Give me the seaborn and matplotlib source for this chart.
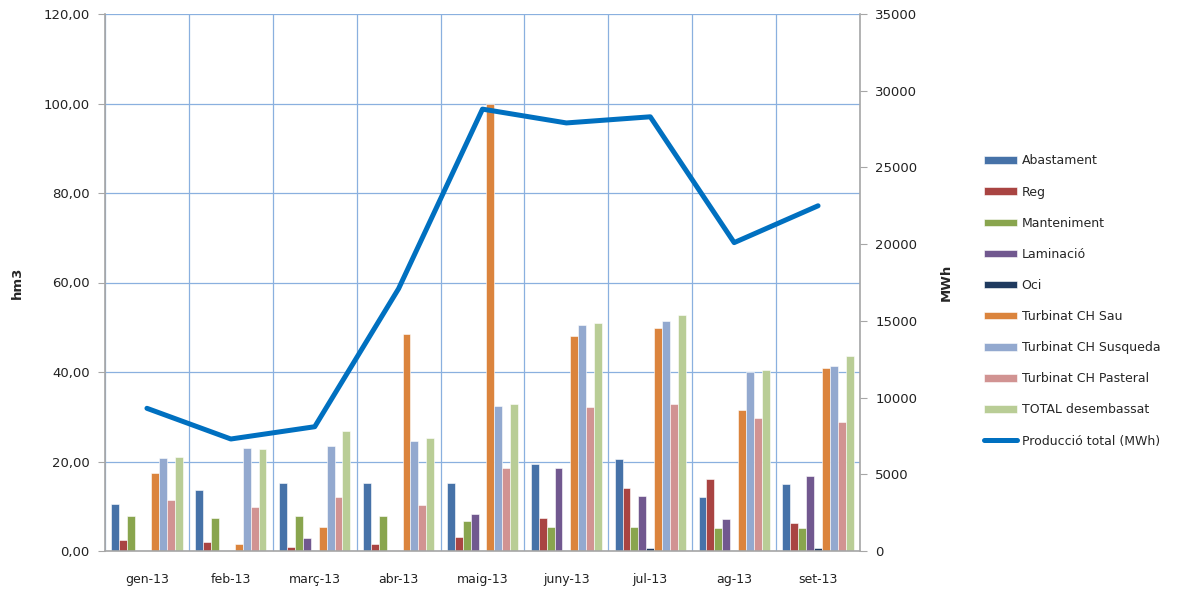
import numpy as np
import pandas as pd
import matplotlib
matplotlib.use("Agg")
import matplotlib.pyplot as plt
from matplotlib.ticker import FuncFormatter, MultipleLocator, FixedLocator
import seaborn as sns

months = ["gen-13", "feb-13", "març-13", "abr-13", "maig-13", "juny-13", "jul-13", "ag-13", "set-13"]
series_names = ["Abastament", "Reg", "Manteniment", "Laminació", "Oci",
                "Turbinat CH Sau", "Turbinat CH Susqueda", "Turbinat CH Pasteral", "TOTAL desembassat"]

abastament = [10.5, 13.7, 15.1, 15.3, 15.1, 19.4, 20.6, 12.0, 14.9]
reg = [2.5, 1.9, 1.0, 1.6, 3.1, 7.4, 14.0, 16.2, 6.2]
manteniment = [7.9, 7.4, 7.9, 7.9, 6.6, 5.4, 5.4, 5.1, 5.1]
laminacio = [0.0, 0.0, 2.8, 0.0, 8.2, 18.5, 12.2, 7.1, 16.8]
oci = [0.0, 0.0, 0.0, 0.0, 0.0, 0.0, 0.6, 0.0, 0.6]
sau = [17.4, 1.6, 5.4, 48.6, 100.0, 48.1, 49.8, 31.5, 41.0]
susqueda = [20.8, 23.1, 23.4, 24.5, 32.3, 50.4, 51.5, 40.0, 41.3]
pasteral = [11.4, 9.9, 12.0, 10.2, 18.5, 32.1, 32.9, 29.8, 28.9]
total = [21.1, 22.8, 26.9, 25.2, 32.9, 51.0, 52.7, 40.4, 43.5]
produccio = [9300, 7300, 8100, 17100, 28800, 27900, 28300, 20100, 22500]

series_values = [abastament, reg, manteniment, laminacio, oci, sau, susqueda, pasteral, total]
colors = ["#4672A8", "#A94442", "#89A54E", "#71588F", "#1F3A5F",
          "#DB843D", "#93A9CF", "#D19392", "#B9CD96"]

rows = []
for name, vals in zip(series_names, series_values):
    for m, v in zip(months, vals):
        rows.append({"month": m, "series": name, "value": v})
df = pd.DataFrame(rows)

sns.set_style("white")
plt.rcParams['font.family'] = ['DejaVu Sans']

fig = plt.figure(figsize=(11.77, 5.90), dpi=100)
ax = fig.add_axes([105/1177, 1-551/590, (860-105)/1177, (551-14)/590])

sns.barplot(data=df, x="month", y="value", hue="series", order=months,
            hue_order=series_names, palette=colors, saturation=1, width=0.85,
            ax=ax, edgecolor="white", linewidth=0.4)

ax.set_xlim(-0.5, len(months) - 0.5)
ax.set_ylim(0, 120)
ax.yaxis.set_major_locator(MultipleLocator(20))
ax.yaxis.set_major_formatter(FuncFormatter(lambda v, p: f"{v:.2f}".replace(".", ",")))
ax.xaxis.set_minor_locator(FixedLocator(np.arange(-0.5, len(months), 1.0)))
ax.set_axisbelow(True)
grid_c = "#8AB0DF"
spine_c = "#A6A6A6"
ax.grid(axis="y", which="major", color=grid_c, linewidth=0.9)
ax.grid(axis="x", which="minor", color=grid_c, linewidth=0.9)
ax.grid(axis="x", which="major", visible=False)
ax.tick_params(axis="x", which="major", length=0, pad=16, labelsize=9, labelcolor="#222222")
ax.tick_params(axis="x", which="minor", length=5, color=spine_c, direction="out")
ax.tick_params(axis="y", length=5, color=spine_c, direction="out", labelsize=9.5, labelcolor="#222222", pad=6)
for s in ["top", "right"]:
    ax.spines[s].set_visible(False)
for s in ["left", "bottom"]:
    ax.spines[s].set_color(spine_c)
    ax.spines[s].set_linewidth(1.2)
ax.set_xlabel("")
ax.set_ylabel("hm3", fontsize=9.5, fontweight="bold", labelpad=14)

ax2 = ax.twinx()
sns.lineplot(x=np.arange(len(months)), y=produccio, ax=ax2, color="#0070C0",
             linewidth=3.6, label="Producció total (MWh)", legend=False)
ax2.set_ylim(0, 35000)
ax2.yaxis.set_major_locator(MultipleLocator(5000))
ax2.tick_params(axis="y", length=5, color=spine_c, direction="out", labelsize=9.5, labelcolor="#222222", pad=6)
for s in ["top", "left", "bottom"]:
    ax2.spines[s].set_visible(False)
ax2.spines["right"].set_color(spine_c)
ax2.spines["right"].set_linewidth(1.2)
ax2.set_ylabel("MWh", fontsize=9.5, fontweight="bold", labelpad=16)
ax2.grid(False)

h1, l1 = ax.get_legend_handles_labels()
h2, l2 = ax2.get_legend_handles_labels()
if ax.get_legend() is not None:
    ax.get_legend().remove()
fig.legend(h1 + h2, l1 + l2, loc="center left", bbox_to_anchor=(978/1177, 1-301/590),
           frameon=False, fontsize=9, labelspacing=1.45, handlelength=2.6,
           handleheight=0.55, handletextpad=0.4, borderpad=0)

fig.savefig("out.png", dpi=100)
